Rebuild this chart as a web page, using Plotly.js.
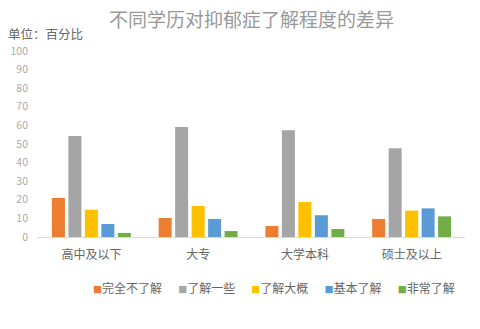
<!DOCTYPE html>
<html><head><meta charset="utf-8">
<script src="https://cdn.plot.ly/plotly-3.0.1.min.js"></script>
<style>html,body{margin:0;padding:0;background:#fff}</style>
</head><body><div id="chart" style="width:480px;height:329px"></div>
<script>
const categories = ['高中及以下', '大专', '大学本科', '硕士及以上'];
const seriesNames = ['完全不了解', '了解一些', '了解大概', '基本了解', '非常了解'];
const seriesColors = ['#ED7D31', '#A5A5A5', '#FFC000', '#5B9BD5', '#70AD47'];
const notAtAll = [21, 10.2, 5.9, 9.7];
const some = [54.3, 59.1, 57.4, 47.7];
const roughly = [14.7, 16.7, 18.8, 14.2];
const basic = [7, 9.7, 11.7, 15.4];
const very = [2.2, 3.2, 4.3, 11.1];
const seriesValues = [notAtAll, some, roughly, basic, very];
const yTicks = [0, 10, 20, 30, 40, 50, 60, 70, 80, 90, 100];

const cjk = '"Noto Sans CJK SC", "Microsoft YaHei", sans-serif';
const traces = seriesNames.map((name, i) => ({
  type: 'bar', name: name, x: categories, y: seriesValues[i],
  marker: {color: seriesColors[i]}, hoverinfo: 'none'
}));

const gap = '&nbsp;'.repeat(6);
const legendText = seriesNames.map((n, i) =>
  `<span style="color:${seriesColors[i]};font-size:9px">■</span>${n}`).join(gap);

const layout = {
  width: 480, height: 329,
  margin: {l: 38, r: 14.5, t: 50.5, b: 92.3},
  paper_bgcolor: '#fff', plot_bgcolor: '#fff',
  font: {family: cjk, color: '#666'},
  showlegend: false,
  barmode: 'group', bargap: 0.228, bargroupgap: 0.21,
  title: {text: '不同学历对抑郁症了解程度的差异', font: {family: cjk, size: 19, color: '#999'},
          x: 0.5, xanchor: 'center', y: 1 - 20 / 329, yanchor: 'middle', xref: 'paper'},
  xaxis: {type: 'category', showline: true, linecolor: '#d9d9d9', linewidth: 1,
          ticks: '', ticklabelstandoff: 7, tickfont: {family: cjk, size: 12, color: '#666'},
          showgrid: false, zeroline: false, fixedrange: true},
  yaxis: {range: [0, 100], tickvals: yTicks, ticktext: yTicks.map(String), showgrid: false,
          zeroline: false, showline: false, ticks: '', ticklabelstandoff: 9,
          tickfont: {family: cjk, size: 10.5, color: '#aaa'}, fixedrange: true},
  annotations: [
    {text: '单位：百分比', xref: 'paper', yref: 'paper', x: -0.075, y: 1.092, xanchor: 'left', yanchor: 'middle',
     showarrow: false, font: {family: cjk, size: 12.5, color: '#666'}},
    {text: legendText, xref: 'paper', yref: 'paper', x: 0.553, y: -0.27, xanchor: 'center', yanchor: 'middle',
     showarrow: false, font: {family: cjk, size: 12, color: '#666'}}
  ]
};
Plotly.newPlot('chart', traces, layout, {displayModeBar: false, staticPlot: true});
</script></body></html>
